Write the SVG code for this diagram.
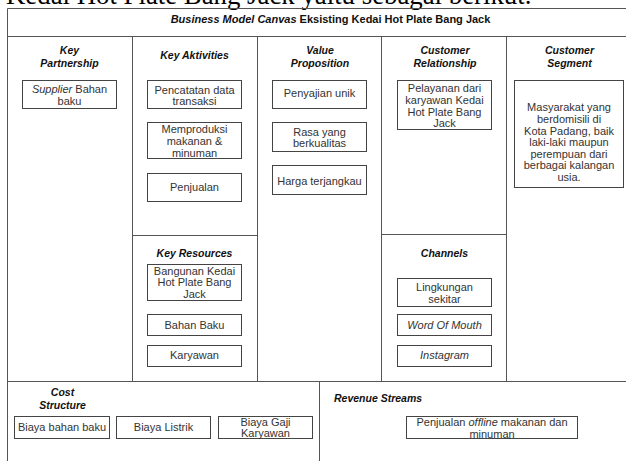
<svg xmlns="http://www.w3.org/2000/svg" width="626" height="461" viewBox="0 0 626 461">
<style>
.ln{stroke:#555;stroke-width:1;fill:none}
.bx{stroke:#444;stroke-width:1;fill:#fff}
.t{font-family:"Liberation Sans",Arial,sans-serif;font-size:11px;fill:#333;text-anchor:middle}
.h{font-family:"Liberation Sans",Arial,sans-serif;font-size:10.5px;font-weight:bold;font-style:italic;fill:#111;text-anchor:middle}
.hs{text-anchor:start}
.i{font-style:italic}
</style>
<rect width="626" height="461" fill="#fff"/>
<text x="6" y="4" font-family="'Liberation Serif','Times New Roman',serif" font-size="26.8" fill="#000">Kedai Hot Plate Bang Jack yaitu sebagai berikut.</text>
<g id="grid">
<path class="ln" d="M7.5,461V8.5H627M7.5,36.5H627M132.5,36.5V381.5M257.5,36.5V381.5M381.5,36.5V381.5M506.5,36.5V381.5M7.5,381.5H627M132.5,235.5H257.5M381.5,234.5H506.5M319.5,381.5V461"/>
</g>
<g id="title">
<text x="330.5" y="23" font-family="'Liberation Sans',Arial,sans-serif" font-size="11" font-weight="bold" fill="#111" text-anchor="middle"><tspan font-style="italic">Business Model Canvas</tspan> Eksisting Kedai Hot Plate Bang Jack</text>
</g>
<g id="key-partnership">
<text class="h" x="69.5" y="53.5">Key</text>
<text class="h" x="69.5" y="66.5">Partnership</text>
<rect class="bx" x="22.5" y="80.5" width="94" height="28"/>
<text class="t" x="69.5" y="93"><tspan class="i">Supplier</tspan> Bahan</text>
<text class="t" x="69.5" y="104.5">baku</text>
</g>
<g id="key-activities">
<text class="h" x="194.5" y="58.5">Key Aktivities</text>
<rect class="bx" x="147.5" y="80.5" width="94" height="28"/>
<text class="t" x="194.5" y="93.5">Pencatatan data</text>
<text class="t" x="194.5" y="105">transaksi</text>
<rect class="bx" x="147.5" y="122.5" width="94" height="36"/>
<text class="t" x="194.5" y="133.3">Memproduksi</text>
<text class="t" x="194.5" y="145">makanan &amp;</text>
<text class="t" x="194.5" y="157">minuman</text>
<rect class="bx" x="147.5" y="173.5" width="94" height="28"/>
<text class="t" x="194.5" y="190.7">Penjualan</text>
</g>
<g id="value-proposition">
<text class="h" x="320" y="53.5">Value</text>
<text class="h" x="320" y="66.5">Proposition</text>
<rect class="bx" x="272.5" y="80.5" width="94" height="28"/>
<text class="t" x="319.5" y="97.3">Penyajian unik</text>
<rect class="bx" x="272.5" y="122.5" width="94" height="29"/>
<text class="t" x="319.5" y="135.7">Rasa yang</text>
<text class="t" x="319.5" y="147.3">berkualitas</text>
<rect class="bx" x="272.5" y="165.5" width="94" height="29"/>
<text class="t" x="319.5" y="184.7">Harga terjangkau</text>
</g>
<g id="customer-relationship">
<text class="h" x="445" y="53.5">Customer</text>
<text class="h" x="445" y="66.5">Relationship</text>
<rect class="bx" x="397.5" y="80.5" width="94" height="49"/>
<text class="t" x="444.5" y="92.3">Pelayanan dari</text>
<text class="t" x="444.5" y="104">karyawan Kedai</text>
<text class="t" x="444.5" y="115.7">Hot Plate Bang</text>
<text class="t" x="444.5" y="127.4">Jack</text>
</g>
<g id="customer-segment">
<text class="h" x="569.5" y="53.5">Customer</text>
<text class="h" x="569.5" y="66.5">Segment</text>
<rect class="bx" x="514.5" y="80.5" width="109" height="107"/>
<text class="t" x="569" y="111.3">Masyarakat yang</text>
<text class="t" x="569" y="122.9">berdomisili di</text>
<text class="t" x="569" y="134.5">Kota Padang, baik</text>
<text class="t" x="569" y="146.1">laki-laki maupun</text>
<text class="t" x="569" y="157.7">perempuan dari</text>
<text class="t" x="569" y="169.3">berbagai kalangan</text>
<text class="t" x="569" y="180.9">usia.</text>
</g>
<g id="key-resources">
<text class="h" x="194.5" y="257">Key Resources</text>
<rect class="bx" x="147.5" y="264.5" width="94" height="36"/>
<text class="t" x="194.5" y="274.7">Bangunan Kedai</text>
<text class="t" x="194.5" y="286.4">Hot Plate Bang</text>
<text class="t" x="194.5" y="298.1">Jack</text>
<rect class="bx" x="147.5" y="314.5" width="94" height="21"/>
<text class="t" x="194.5" y="328.7">Bahan Baku</text>
<rect class="bx" x="147.5" y="345.5" width="94" height="21"/>
<text class="t" x="194.5" y="359.3">Karyawan</text>
</g>
<g id="channels">
<text class="h" x="444.5" y="257">Channels</text>
<rect class="bx" x="397.5" y="278.5" width="94" height="28"/>
<text class="t" x="444.5" y="290.7">Lingkungan</text>
<text class="t" x="444.5" y="303">sekitar</text>
<rect class="bx" x="397.5" y="314.5" width="94" height="21"/>
<text class="t i" x="444.5" y="328.7">Word Of Mouth</text>
<rect class="bx" x="397.5" y="345.5" width="94" height="21"/>
<text class="t i" x="444.5" y="359.3">Instagram</text>
</g>
<g id="cost-structure">
<text class="h" x="62.5" y="396">Cost</text>
<text class="h" x="62.5" y="409">Structure</text>
<rect class="bx" x="14.5" y="416.5" width="95" height="22"/>
<text class="t" x="62" y="431.3">Biaya bahan baku</text>
<rect class="bx" x="116.5" y="416.5" width="94" height="22"/>
<text class="t" x="163.5" y="431.3">Biaya Listrik</text>
<rect class="bx" x="218.5" y="416.5" width="94" height="22"/>
<text class="t" x="265.5" y="425.7">Biaya Gaji</text>
<text class="t" x="265.5" y="437.3">Karyawan</text>
</g>
<g id="revenue-streams">
<text class="h hs" x="334" y="402">Revenue Streams</text>
<rect class="bx" x="406.5" y="416.5" width="171" height="22"/>
<text class="t" x="492" y="425.7">Penjualan <tspan class="i">offline</tspan> makanan dan</text>
<text class="t" x="492" y="438">minuman</text>
</g>
</svg>
